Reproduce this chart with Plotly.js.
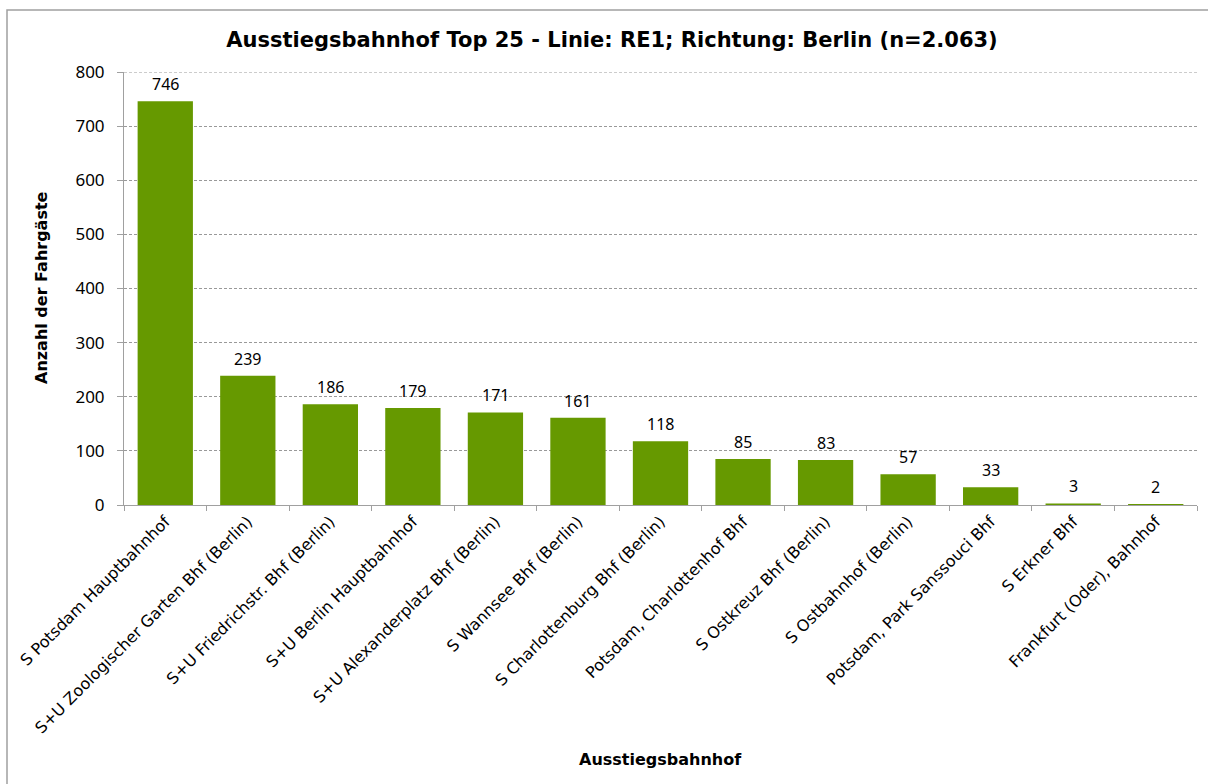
<!DOCTYPE html>
<html>
<head>
<meta charset="utf-8">
<script src="https://cdn.plot.ly/plotly-3.0.1.min.js"></script>
<style>html,body{margin:0;padding:0;background:#fff;}#chart{width:1208px;height:784px;}</style>
</head>
<body>
<div id="chart"></div>
<script>
const stations = [
  "S Potsdam Hauptbahnhof",
  "S+U Zoologischer Garten Bhf (Berlin)",
  "S+U Friedrichstr. Bhf (Berlin)",
  "S+U Berlin Hauptbahnhof",
  "S+U Alexanderplatz Bhf (Berlin)",
  "S Wannsee Bhf (Berlin)",
  "S Charlottenburg Bhf (Berlin)",
  "Potsdam, Charlottenhof Bhf",
  "S Ostkreuz Bhf (Berlin)",
  "S Ostbahnhof (Berlin)",
  "Potsdam, Park Sanssouci Bhf",
  "S Erkner Bhf",
  "Frankfurt (Oder), Bahnhof"
];
const passengers = [746, 239, 186, 179, 171, 161, 118, 85, 83, 57, 33, 3, 2];
const yTicks = [0, 100, 200, 300, 400, 500, 600, 700, 800];

const FONT = "'Noto Sans', 'DejaVu Sans', sans-serif";
const BFONT = "'DejaVu Sans', 'Noto Sans', sans-serif";
const L = 124, R = 1197, T = 72, B = 505, W = 1208, H = 784;
const pw = R - L, ph = B - T;

const trace = {
  type: "bar",
  x: stations,
  y: passengers,
  marker: {color: "#669900"},
  hoverinfo: "x+y"
};

const labelAnn = stations.map(function(s, i){
  return {
    x: s, y: passengers[i], xref: "x", yref: "y",
    text: String(passengers[i]), showarrow: false,
    xanchor: "center", yanchor: "bottom", yshift: 4,
    font: {family: FONT, size: 16, color: "#000"}
  };
});

const layout = {
  width: W, height: H,
  margin: {l: L, r: W - R, t: T, b: H - B, pad: 0},
  paper_bgcolor: "#fff",
  plot_bgcolor: "#fff",
  font: {family: FONT, size: 14, color: "#000"},
  showlegend: false,
  bargap: 0.33,
  title: {
    text: "<b>Ausstiegsbahnhof Top 25 - Linie: RE1; Richtung: Berlin (n=2.063)</b>",
    font: {family: BFONT, size: 21, color: "#000"},
    x: 612 / W, xref: "container", xanchor: "center",
    y: 1 - 40 / H, yref: "container", yanchor: "middle"
  },
  xaxis: {
    type: "category",
    tickangle: -45,
    tickfont: {family: BFONT, size: 16, color: "#000"},
    showline: true, linecolor: "#a0a0a0", linewidth: 1,
    ticks: "outside", tickson: "boundaries", ticklen: 5, tickcolor: "#a0a0a0",
    showgrid: false,
    automargin: false
  },
  yaxis: {
    range: [0, 800],
    tickvals: yTicks,
    ticktext: yTicks.map(String),
    tickfont: {family: FONT, size: 17, color: "#000"},
    ticklabelstandoff: 9,
    showline: true, linecolor: "#a0a0a0", linewidth: 1,
    ticks: "outside", ticklen: 6, tickcolor: "#a0a0a0",
    showgrid: true, gridcolor: "#999999", griddash: "3px,2px", gridwidth: 1,
    zeroline: false,
    automargin: false
  },
  shapes: [{
    type: "rect", xref: "paper", yref: "paper",
    x0: (7 - L) / pw, x1: (W + 20 - L) / pw,
    y0: (B - (H + 20)) / ph, y1: (B - 10) / ph,
    line: {color: "#a0a0a0", width: 1.5}, fillcolor: "rgba(0,0,0,0)", layer: "below"
  }, {
    type: "line", xref: "paper", yref: "y",
    x0: 0, x1: 1, y0: 800, y1: 800,
    line: {color: "#999999", width: 1, dash: "3px,2px"}
  }],
  annotations: labelAnn.concat([
    {
      text: "<b>Ausstiegsbahnhof</b>", showarrow: false,
      xref: "paper", yref: "paper",
      x: 0.5, y: (B - 759) / ph,
      xanchor: "center", yanchor: "middle",
      font: {family: BFONT, size: 16, color: "#000"}
    },
    {
      text: "<b>Anzahl der Fahrgäste</b>", showarrow: false, textangle: -90,
      xref: "paper", yref: "paper",
      x: (41 - L) / pw, y: (B - 288) / ph,
      xanchor: "center", yanchor: "middle",
      font: {family: BFONT, size: 16, color: "#000"}
    }
  ])
};

Plotly.newPlot("chart", [trace], layout, {displayModeBar: false, staticPlot: true});
</script>
</body>
</html>
